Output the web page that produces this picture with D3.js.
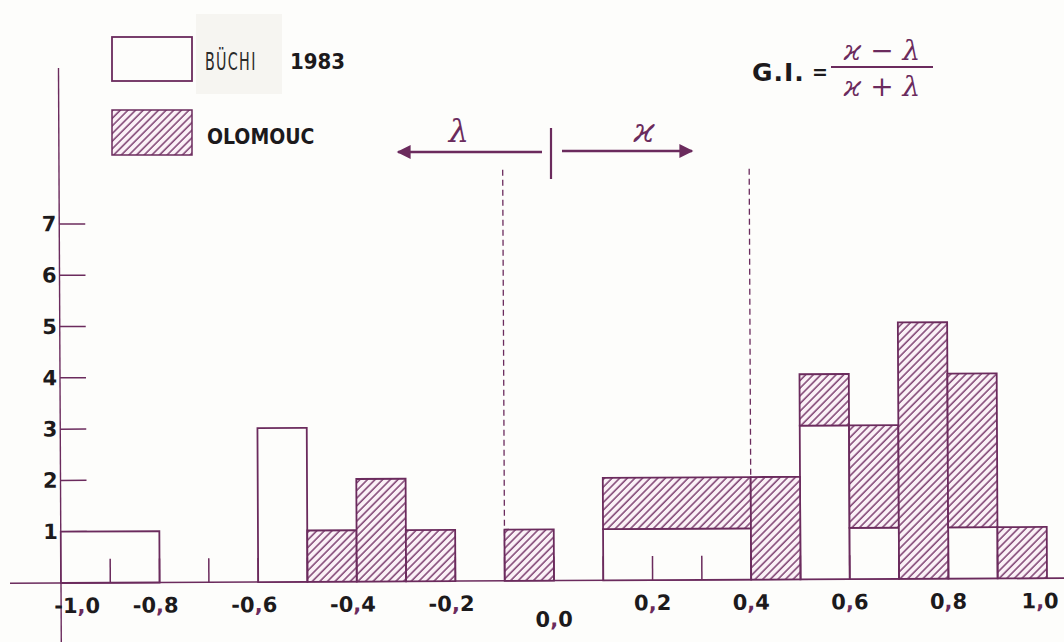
<!DOCTYPE html>
<html>
<head>
<meta charset="utf-8">
<script src="https://cdn.jsdelivr.net/npm/d3@7"></script>
<style>
  body { margin: 0; background: #fdfdfb; }
  svg { display: block; }
</style>
</head>
<body>
<div class="vis1"></div>
<script>
// Histogram data: bin starts (width 0.1) and counts per series
var binStarts = [-1.0, -0.9, -0.8, -0.7, -0.6, -0.5, -0.4, -0.3, -0.2, -0.1,
                  0.0,  0.1,  0.2,  0.3,  0.4,  0.5,  0.6,  0.7,  0.8,  0.9];
var buchi     = [1, 1, 0, 0, 3, 0, 0, 0, 0, 0, 0, 1, 1, 1, 0, 3, 1, 0, 1, 0];
var olomouc   = [0, 0, 0, 0, 0, 1, 2, 1, 0, 1, 0, 1, 1, 1, 2, 1, 2, 5, 3, 1];
var binWidth = 0.1;

var yTickValues = [1, 2, 3, 4, 5, 6, 7];
var xTickValues = [-1.0, -0.8, -0.6, -0.4, -0.2, 0.0, 0.2, 0.4, 0.6, 0.8, 1.0];
var xTickLabels = ["-1,0", "-0,8", "-0,6", "-0,4", "-0,2", "0,0", "0,2", "0,4", "0,6", "0,8", "1,0"];
var minorTicks = [-0.9, -0.8, -0.7, -0.6, -0.5, -0.4, -0.3, -0.2, -0.1, 0.0, 0.1, 0.2, 0.3, 0.4, 0.5, 0.6, 0.7, 0.8, 0.9];
var dashedAt = [-0.1, 0.4];

var W = 1064, H = 642;
var purple = "#6b2b5d";
var ink = "#1c1a1c";
var font = "'DejaVu Sans Condensed', 'DejaVu Sans', sans-serif";
var numFont = "'DejaVu Sans', sans-serif";

var svg = d3.select(".vis1")
  .append("svg")
  .attr("width", W)
  .attr("height", H)
  .style("background", "#fdfdfb");

// hatch pattern for Olomouc
var defs = svg.append("defs");
var pat = defs.append("pattern")
  .attr("id", "hatch")
  .attr("patternUnits", "userSpaceOnUse")
  .attr("width", 5.4)
  .attr("height", 5.4)
  .attr("patternTransform", "rotate(45)");
pat.append("rect").attr("width", 5.4).attr("height", 5.4).attr("fill", "#fbf1f7");
pat.append("line")
  .attr("x1", 1).attr("y1", 0).attr("x2", 1).attr("y2", 5.4)
  .attr("stroke", "#7d4070").attr("stroke-width", 1.5);

var x = d3.scaleLinear().domain([-1, 1]).range([61, 1047]);
var y = d3.scaleLinear().domain([0, 7]).range([583, 224]);

// scan is a touch rotated
var g = svg.append("g").attr("transform", "rotate(-0.28, 61, 583)");

// axes lines
g.append("line")
  .attr("x1", 10).attr("x2", W + 10)
  .attr("y1", y(0)).attr("y2", y(0))
  .attr("stroke", purple).attr("stroke-width", 1.6);
g.append("line")
  .attr("x1", x(-1)).attr("x2", x(-1))
  .attr("y1", 68).attr("y2", H + 10)
  .attr("stroke", purple).attr("stroke-width", 1.4);

// y ticks + labels
var yAxis = d3.axisLeft(y).tickValues(yTickValues).tickFormat(d3.format("d")).tickSize(0).tickPadding(3);
var ya = g.append("g").attr("transform", "translate(" + x(-1) + ",0)").call(yAxis);
ya.select(".domain").remove();
ya.selectAll("text")
  .attr("font-family", numFont).attr("font-weight", "bold")
  .attr("font-size", 21).attr("fill", ink);
g.selectAll(".ytick")
  .data(yTickValues)
  .enter().append("line")
  .attr("class", "ytick")
  .attr("x1", x(-1)).attr("x2", x(-1) + 26)
  .attr("y1", function(d) { return y(d); })
  .attr("y2", function(d) { return y(d); })
  .attr("stroke", purple).attr("stroke-width", 1.5);

// dashed reference lines
g.selectAll(".dash")
  .data(dashedAt)
  .enter().append("line")
  .attr("x1", function(d) { return x(d); })
  .attr("x2", function(d) { return x(d); })
  .attr("y1", 172).attr("y2", y(0))
  .attr("stroke", purple).attr("stroke-width", 1.3)
  .attr("stroke-dasharray", "6,4");

// group consecutive bins with the same counts into one block
var blocks = [];
binStarts.forEach(function(b, i) {
  var last = blocks[blocks.length - 1];
  if (buchi[i] + olomouc[i] === 0) return;
  if (last && last.end === i && last.buchi === buchi[i] && last.olomouc === olomouc[i]) {
    last.x1 = b + binWidth; last.end = i + 1;
  } else {
    blocks.push({ x0: b, x1: b + binWidth, buchi: buchi[i], olomouc: olomouc[i], end: i + 1 });
  }
});

g.selectAll(".white")
  .data(blocks.filter(function(d) { return d.buchi > 0; }))
  .enter().append("rect")
  .attr("x", function(d) { return x(d.x0); })
  .attr("width", function(d) { return x(d.x1) - x(d.x0); })
  .attr("y", function(d) { return y(d.buchi); })
  .attr("height", function(d) { return y(0) - y(d.buchi); })
  .attr("fill", "#fdfdfb")
  .attr("stroke", purple).attr("stroke-width", 1.8);

g.selectAll(".hatched")
  .data(blocks.filter(function(d) { return d.olomouc > 0; }))
  .enter().append("rect")
  .attr("x", function(d) { return x(d.x0); })
  .attr("width", function(d) { return x(d.x1) - x(d.x0); })
  .attr("y", function(d) { return y(d.buchi + d.olomouc); })
  .attr("height", function(d) { return y(d.buchi) - y(d.buchi + d.olomouc); })
  .attr("fill", "url(#hatch)")
  .attr("stroke", purple).attr("stroke-width", 1.8);

// small x ticks every 0.1
g.selectAll(".xminor")
  .data(minorTicks)
  .enter().append("line")
  .attr("x1", function(d) { return x(d); })
  .attr("x2", function(d) { return x(d); })
  .attr("y1", y(0)).attr("y2", y(0) - 24)
  .attr("stroke", purple).attr("stroke-width", 1.5);

// x labels (the decimal comma is hand-drawn in purple)
var xl = g.selectAll(".xlab")
  .data(xTickValues)
  .enter().append("text")
  .attr("x", function(d, i) {
    if (i === 0) return x(d) + 16;
    if (i === xTickValues.length - 1) return x(d) - 7;
    return d < 0 ? x(d) - 4 : x(d);
  })
  .attr("y", function(d) { return d === 0 ? 629 : 613; })
  .attr("text-anchor", "middle")
  .attr("font-family", numFont).attr("font-weight", "bold")
  .attr("font-size", 21).attr("fill", ink);
xl.each(function(d, i) {
  var parts = xTickLabels[i].split(",");
  var t = d3.select(this);
  t.append("tspan").text(parts[0]);
  t.append("tspan").attr("fill", purple).text(",");
  t.append("tspan").text(parts[1]);
});

// legend
svg.append("rect").attr("x", 196).attr("y", 14).attr("width", 86).attr("height", 80)
  .attr("fill", "#f6f5f1");
svg.append("rect").attr("x", 112).attr("y", 37).attr("width", 80).attr("height", 44)
  .attr("fill", "#fdfdfb").attr("stroke", purple).attr("stroke-width", 1.8);
svg.append("rect").attr("x", 112).attr("y", 110).attr("width", 80).attr("height", 45)
  .attr("fill", "url(#hatch)").attr("stroke", purple).attr("stroke-width", 1.5);
svg.append("text")
  .attr("font-family", font).attr("font-size", 24).attr("letter-spacing", 2)
  .attr("fill", "#2a2a2a").attr("transform", "translate(205,70) scale(0.66,1)")
  .text("BÜCHI");
svg.append("text").attr("x", 290).attr("y", 69)
  .attr("font-family", font).attr("font-weight", "bold").attr("font-size", 22)
  .attr("fill", ink).text("1983");
svg.append("text").attr("x", 207).attr("y", 144)
  .attr("font-family", font).attr("font-weight", "bold").attr("font-size", 21)
  .attr("fill", ink).text("OLOMOUC");

// direction arrows λ / ϰ
var arrowY = 152;
defs.append("marker")
  .attr("id", "head").attr("viewBox", "0 0 10 10")
  .attr("refX", 9).attr("refY", 5)
  .attr("markerWidth", 16).attr("markerHeight", 14)
  .attr("markerUnits", "userSpaceOnUse")
  .attr("orient", "auto")
  .append("path").attr("d", "M0,0 L10,5 L0,10 Z").attr("fill", purple);
svg.append("line").attr("x1", 542).attr("x2", 398).attr("y1", arrowY).attr("y2", arrowY)
  .attr("stroke", purple).attr("stroke-width", 2.4).attr("marker-end", "url(#head)");
svg.append("line").attr("x1", 562).attr("x2", 692).attr("y1", arrowY - 1).attr("y2", arrowY - 1)
  .attr("stroke", purple).attr("stroke-width", 2.4).attr("marker-end", "url(#head)");
svg.append("line").attr("x1", 551).attr("x2", 551).attr("y1", 128).attr("y2", 179)
  .attr("stroke", purple).attr("stroke-width", 2.2);
svg.append("text").attr("x", 459).attr("y", 142).attr("text-anchor", "middle")
  .attr("font-family", "'DejaVu Serif', serif").attr("font-style", "italic")
  .attr("font-size", 32).attr("fill", purple).text("λ");
svg.append("text").attr("x", 644).attr("y", 142).attr("text-anchor", "middle")
  .attr("font-family", "'DejaVu Serif', serif").attr("font-style", "italic")
  .attr("font-size", 34).attr("fill", purple).text("ϰ");

// formula G.I. = (ϰ − λ)/(ϰ + λ)
svg.append("text").attr("x", 752).attr("y", 81)
  .attr("font-family", "'DejaVu Sans', sans-serif").attr("font-weight", "bold")
  .attr("font-size", 25).attr("letter-spacing", 1).attr("fill", ink).text("G.I.");
svg.append("text").attr("x", 812).attr("y", 79)
  .attr("font-family", "'DejaVu Sans', sans-serif").attr("font-weight", "bold")
  .attr("font-size", 19).attr("fill", ink).text("=");
svg.append("line").attr("x1", 831).attr("x2", 933).attr("y1", 67).attr("y2", 67)
  .attr("stroke", purple).attr("stroke-width", 2);
svg.append("text").attr("x", 882).attr("y", 60).attr("text-anchor", "middle")
  .attr("font-family", "'DejaVu Serif', serif").attr("font-style", "italic")
  .attr("font-size", 28).attr("fill", purple).text("ϰ − λ");
svg.append("text").attr("x", 882).attr("y", 96).attr("text-anchor", "middle")
  .attr("font-family", "'DejaVu Serif', serif").attr("font-style", "italic")
  .attr("font-size", 28).attr("fill", purple).text("ϰ + λ");
</script>
</body>
</html>
